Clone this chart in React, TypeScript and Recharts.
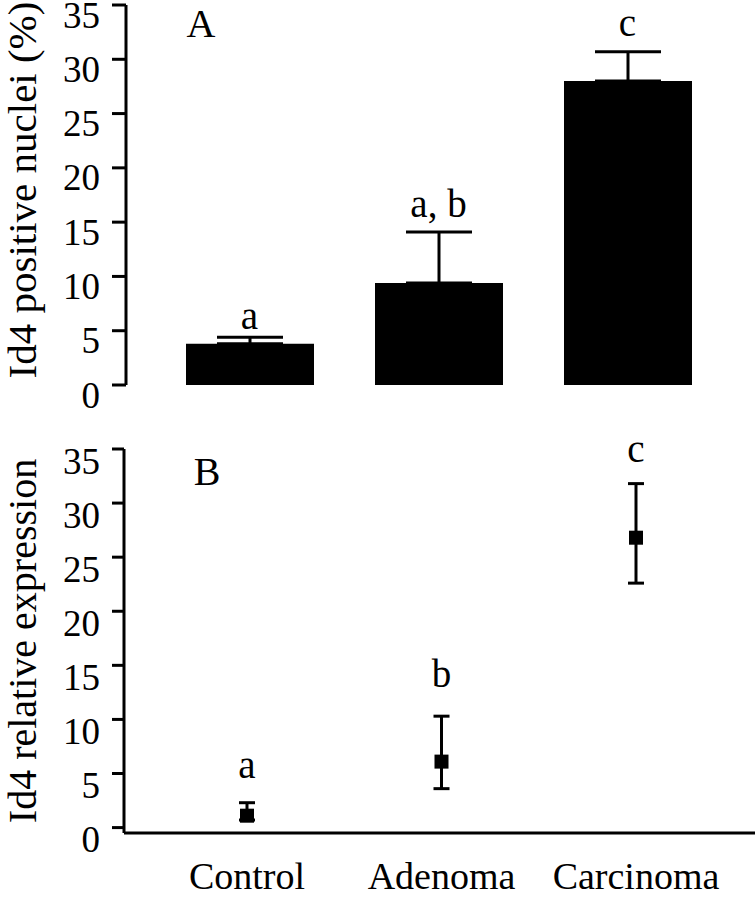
import React, { useLayoutEffect, useEffect, useRef } from "react";
import {
  ComposedChart,
  Bar,
  Line,
  XAxis,
  YAxis,
  ErrorBar,
  LabelList,
} from "recharts";

// ---------- data ----------
const categories = ["Control", "Adenoma", "Carcinoma"];

// Panel A: Id4 positive nuclei (%)
const nucleiMean = [3.8, 9.4, 28.0];
const nucleiErrUp = [0.6, 4.7, 2.7];
const nucleiLetters = ["a", "a, b", "c"];
const nucleiLetterPos = [5.2, 15.5, 32.1];

// Panel B: Id4 relative expression
const exprMean = [1.1, 6.1, 26.8];
const exprErrLow = [0.4, 2.5, 4.2];
const exprErrHigh = [1.2, 4.2, 5.0];
const exprLetters = ["a", "b", "c"];
const exprLetterPos = [4.6, 13.0, 33.8];

const yTicks = [0, 5, 10, 15, 20, 25, 30, 35];

const dataA = categories.map((c, i) => ({
  name: c,
  value: nucleiMean[i],
  err: [0, nucleiErrUp[i]],
  letter: nucleiLetters[i],
  letterPos: nucleiLetterPos[i],
}));

const dataB = categories.map((c, i) => ({
  name: c,
  value: exprMean[i],
  err: [exprErrLow[i], exprErrHigh[i]],
  letter: exprLetters[i],
  letterPos: exprLetterPos[i],
}));

const FONT = "Liberation Serif";
const serif = (size: number) => ({ fontFamily: FONT, fontSize: size });

const makeYTick = (dy: number) => (props: any) => {
  const { x, y, payload } = props;
  return (
    <text
      x={x}
      y={y + dy}
      textAnchor="end"
      dominantBaseline="central"
      fontFamily={FONT}
      style={serif(37)}
      fill="#000"
    >
      {payload.value}
    </text>
  );
};

const XTick = (props: any) => {
  const { x, y, payload } = props;
  return (
    <text x={x} y={y + 56} textAnchor="middle" fontFamily={FONT} style={serif(38)} fill="#000">
      {payload.value}
    </text>
  );
};

const LetterLabel = (props: any) => {
  const { x, y, value } = props;
  return (
    <text x={x} y={y} textAnchor="middle" fontFamily={FONT} style={serif(39)} fill="#000">
      {value}
    </text>
  );
};

const SquareDot = (props: any) => {
  const { cx, cy, index } = props;
  if (cx == null || cy == null) return <g key={index} />;
  return <rect key={index} x={cx - 7} y={cy - 7} width={14} height={14} fill="#000" />;
};

const yLabel = (text: string, cy: number, size: number) => () => {
  return (
    <text
      x={22}
      y={cy}
      transform={`rotate(-90, 22, ${cy})`}
      textAnchor="middle"
      dominantBaseline="central"
      fontFamily={FONT}
      style={serif(size)}
      fill="#000"
    >
      {text}
    </text>
  );
};

export default function App() {
  const ref = useRef<HTMLDivElement>(null);
  const applyFont = () => {
    const root = ref.current;
    if (!root) return;
    root.querySelectorAll("text, tspan").forEach((el: any) => {
      el.style.setProperty("font-family", FONT, "important");
      el.setAttribute("font-family", FONT);
    });
  };
  useLayoutEffect(() => {
    applyFont();
  });
  useEffect(() => {
    applyFont();
    const t1 = setTimeout(applyFont, 0);
    const t2 = setTimeout(applyFont, 50);
    const root = ref.current;
    let obs: MutationObserver | null = null;
    if (root) {
      obs = new MutationObserver(() => {
        obs && obs.disconnect();
        applyFont();
        if (root && obs) obs.observe(root, { subtree: true, childList: true, attributes: true, attributeFilter: ["style", "font-family", "class"] });
      });
      obs.observe(root, { subtree: true, childList: true, attributes: true, attributeFilter: ["style", "font-family", "class"] });
    }
    return () => {
      clearTimeout(t1);
      clearTimeout(t2);
      obs && obs.disconnect();
    };
  }, []);

  return (
    <div
      ref={ref}
      style={{
        position: "absolute",
        left: 0,
        top: 0,
        width: 755,
        height: 899,
        background: "#fff",
        fontFamily: FONT,
      }}
    >
      <div style={{ position: "absolute", left: 0, top: 0 }}>
        <ComposedChart
          width={755}
          height={420}
          data={dataA}
          margin={{ top: 5, right: 0, bottom: 35, left: 0 }}
        >
          <XAxis
            dataKey="name"
            height={0}
            tick={false}
            tickLine={false}
            axisLine={{ stroke: "#000", strokeWidth: 3 }}
            padding={{ left: 29, right: 33 }}
          />
          <YAxis
            width={126}
            domain={[0, 35]}
            ticks={yTicks}
            interval={0}
            tickSize={14}
            tickMargin={12}
            axisLine={{ stroke: "#000", strokeWidth: 3 }}
            tickLine={{ stroke: "#000", strokeWidth: 3 }}
            tick={makeYTick(10)}
            label={{ content: yLabel("Id4 positive nuclei (%)", 190, 41) }}
          />
          <Bar dataKey="value" fill="#000" barSize={128} isAnimationActive={false}>
            <ErrorBar dataKey="err" width={33} stroke="#000" strokeWidth={3} direction="y" />
          </Bar>
          <Line
            dataKey="letterPos"
            stroke="none"
            dot={false}
            activeDot={false}
            isAnimationActive={false}
          >
            <LabelList dataKey="letter" content={LetterLabel} />
          </Line>
          <text x={201} y={37} textAnchor="middle" fontFamily={FONT} style={serif(40)} fill="#000">
            A
          </text>
        </ComposedChart>
      </div>
      <div style={{ position: "absolute", left: 0, top: 420 }}>
        <ComposedChart
          width={755}
          height={479}
          data={dataB}
          margin={{ top: 29, right: 0, bottom: 0, left: 0 }}
        >
          <XAxis
            dataKey="name"
            height={66}
            tickLine={false}
            tickSize={0}
            tickMargin={0}
            tick={XTick}
            interval={0}
            axisLine={{ stroke: "#000", strokeWidth: 3 }}
            padding={{ left: 123, right: 119 }}
          />
          <YAxis
            width={124}
            domain={[-0.5, 35]}
            ticks={yTicks}
            interval={0}
            tickSize={12}
            tickMargin={12}
            axisLine={{ stroke: "#000", strokeWidth: 3 }}
            tickLine={{ stroke: "#000", strokeWidth: 3 }}
            tick={makeYTick(12)}
            label={{ content: yLabel("Id4 relative expression", 221, 40) }}
          />
          <Line
            dataKey="value"
            stroke="none"
            dot={SquareDot}
            activeDot={false}
            isAnimationActive={false}
          >
            <ErrorBar dataKey="err" width={8} stroke="#000" strokeWidth={3} direction="y" />
          </Line>
          <Line
            dataKey="letterPos"
            stroke="none"
            dot={false}
            activeDot={false}
            isAnimationActive={false}
          >
            <LabelList dataKey="letter" content={LetterLabel} />
          </Line>
          <text x={207} y={65} textAnchor="middle" fontFamily={FONT} style={serif(40)} fill="#000">
            B
          </text>
        </ComposedChart>
      </div>
    </div>
  );
}
